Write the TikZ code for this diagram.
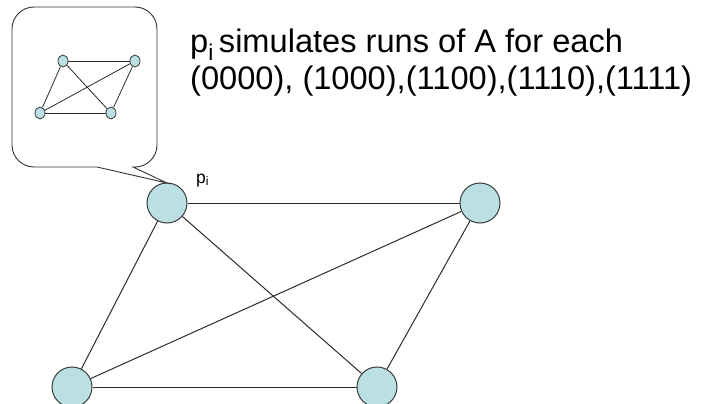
\documentclass[tikz,border=0pt]{standalone}
\usepackage{fontspec}
\setmainfont{Liberation Sans}
\usetikzlibrary{positioning, shapes.geometric}
\definecolor{nodefill}{HTML}{BBE0E3}
\definecolor{nodedraw}{HTML}{3A3A3A}
\definecolor{edgeclr}{HTML}{2B2B2B}

\begin{document}
\begin{tikzpicture}[
            x=1pt, y=-1pt,
            proc node/.style={circle, draw=nodedraw, fill=nodefill, line width=1pt, minimum size=40pt, inner sep=0pt},
            mini node/.style={ellipse, draw=nodedraw, fill=nodefill, line width=0.8pt, minimum width=10pt, minimum height=12pt, inner sep=0pt},
            edge line/.style={draw=edgeclr, line width=1pt},
            mini edge/.style={draw=edgeclr, line width=0.8pt},
            callout line/.style={draw=black!80, line width=0.9pt},
            big text/.style={font=\fontsize{32.6}{37}\selectfont, align=left, inner sep=0pt},
            small text/.style={font=\fontsize{17.5}{20}\selectfont, inner sep=0pt},
        ]
        \useasboundingbox (0,0) rectangle (702,404);

        % Processes
        \node[proc node] (tl) at (167,203) {};
        \node[proc node] (tr) at (480,203) {};
        \node[proc node] (bl) at (72,387) {};
        \node[proc node] (br) at (377,387) {};

        % Links
        \draw[edge line] (tl) -- (tr);
        \draw[edge line] (tl) -- (bl);
        \draw[edge line] (tl) -- (br);
        \draw[edge line] (tr) -- (bl);
        \draw[edge line] (tr) -- (br);
        \draw[edge line] (bl) -- (br);

        % Label of p_i
        \node[small text, anchor=base west] (pilbl) at (196,183) {p\textsubscript{i}};

        % Callout bubble
        \coordinate (tip) at (167,183);
        \draw[callout line, fill=white]
            (97,167) -- (tip) -- (133,167)
            [rounded corners=22pt] -- (157,167) -- (157,7) -- (12,7) -- (12,167) [sharp corners] -- (97,167);

        % Graph inside the bubble
        \node[mini node] (mtl) at (63,61) {};
        \node[mini node] (mtr) at (135,61) {};
        \node[mini node] (mbl) at (40,113) {};
        \node[mini node] (mbr) at (111,113) {};
        \draw[mini edge] (mtl) -- (mtr);
        \draw[mini edge] (mtl) -- (mbl);
        \draw[mini edge] (mtl) -- (mbr);
        \draw[mini edge] (mtr) -- (mbl);
        \draw[mini edge] (mtr) -- (mbr);
        \draw[mini edge] (mbl) -- (mbr);

        % Caption
        \node[big text, anchor=north west] (caption) at (190,29)
            {p\textsubscript{i}\hspace{-4pt} simulates runs of A for each\\(0000), (1000),(1100),(1110),(1111)};

        \end{tikzpicture}
\end{document}
